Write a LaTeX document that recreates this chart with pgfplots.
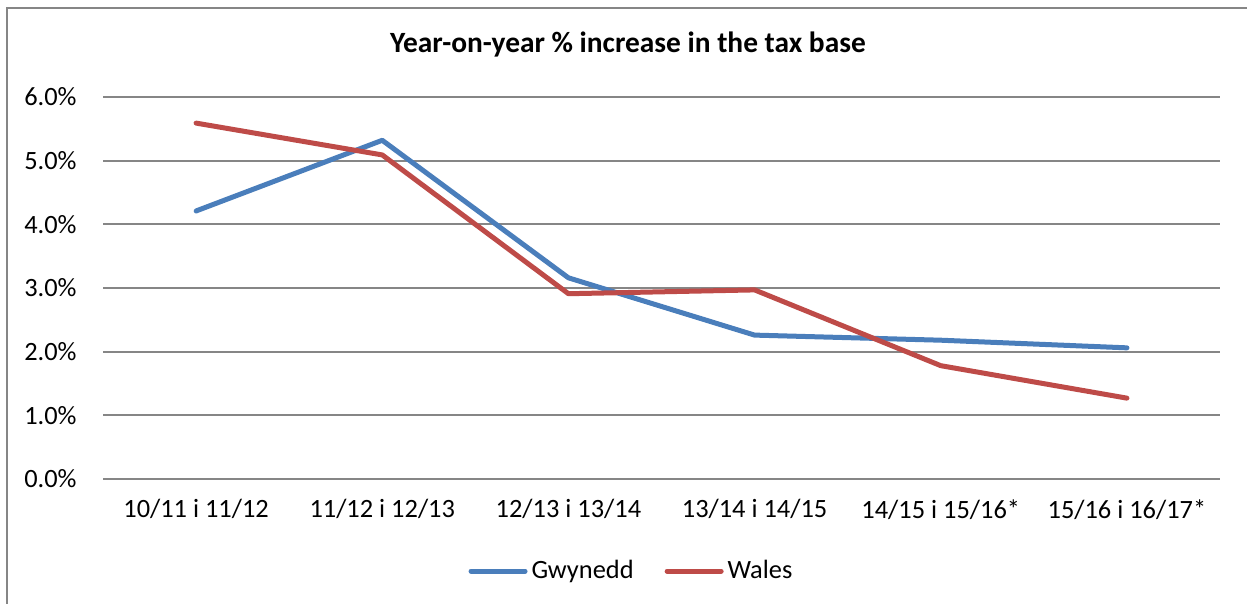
\documentclass[border=0pt]{standalone}
\usepackage{fontspec}
\setmainfont{Carlito}
\usepackage{pgfplots}
\pgfplotsset{compat=1.18}
\definecolor{gw}{RGB}{74,126,187}
\definecolor{wa}{RGB}{190,75,72}
\definecolor{gridc}{RGB}{134,134,134}
\begin{document}
\begin{tikzpicture}
\begin{axis}[
  at={(51.5pt,62.5pt)}, anchor=south west,
  scale only axis, width=558.5pt, height=191pt,
  xmin=-0.5, xmax=5.5, ymin=0, ymax=6,
  axis line style={draw=none},
  major tick length=0pt,
  ymajorgrids, grid style={gridc, line width=1pt},
  ytick={0,1,2,3,4,5,6},
  yticklabels={0.0\%,1.0\%,2.0\%,3.0\%,4.0\%,5.0\%,6.0\%},
  xtick={0,1,2,3,4,5},
  xticklabels={10/11 i 11/12,11/12 i 12/13,12/13 i 13/14,13/14 i 14/15,14/15 i 15/16*,15/16 i 16/17*},
  ticklabel style={font=\fontsize{13.2pt}{15pt}\selectfont},
  yticklabel style={inner sep=0pt, anchor=east, xshift=-13pt},
  xticklabel style={inner sep=0pt, anchor=north, yshift=-10pt},
  legend style={at={(0.474,-0.241)}, anchor=center, draw=none,
    font=\fontsize{13.2pt}{15pt}\selectfont, legend columns=2,
    /tikz/every even column/.append style={column sep=13.5pt},
    legend cell align=left},
  legend image code/.code={\draw[#1, line cap=round] (0pt,0pt) -- (27pt,0pt);},
]
\addplot[gw, line width=2.5pt, line join=round, line cap=round] coordinates {
  (0,4.21) (1,5.32) (2,3.16) (3,2.26) (4,2.18) (5,2.06)};
\addlegendentry{Gwynedd}
\addplot[wa, line width=2.5pt, line join=round, line cap=round] coordinates {
  (0,5.59) (1,5.09) (2,2.91) (3,2.97) (4,1.78) (5,1.27)};
\addlegendentry{Wales}
\end{axis}
\node[font=\bfseries\fontsize{14.7pt}{17pt}\selectfont] at (314pt,279.5pt) {Year-on-year \% increase in the tax base};
\draw[gridc, line width=0.9pt] (3.5pt,0pt) -- (3.5pt,298pt) -- (623.5pt,298pt);
\pgfresetboundingbox
\useasboundingbox (0pt,0pt) rectangle (623.5pt,302pt);
\end{tikzpicture}
\end{document}
